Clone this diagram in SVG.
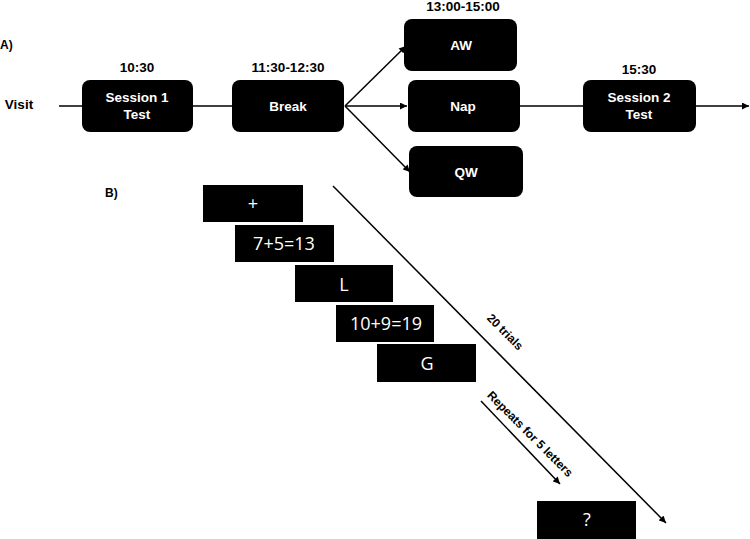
<svg xmlns="http://www.w3.org/2000/svg" width="750" height="539" viewBox="0 0 750 539">
<defs>
<marker id="ah" viewBox="0 0 10 10" refX="10" refY="5" markerWidth="8" markerHeight="7" markerUnits="userSpaceOnUse" orient="auto">
<path d="M0,0 L10,5 L0,10 Z" fill="#000"/>
</marker>
</defs>
<style>
.bx{fill:#000}
.t{font-family:"Liberation Sans",Arial,sans-serif;font-weight:bold;font-size:13.5px;fill:#000;text-anchor:middle}
.w{font-family:"Liberation Sans",Arial,sans-serif;font-weight:bold;font-size:13.5px;fill:#fff;text-anchor:middle}
.s{font-family:"Liberation Sans",Arial,sans-serif;font-weight:bold;font-size:12px;fill:#000}
.c{font-family:"Open Sans","Liberation Sans",sans-serif;font-size:18px;fill:#fff;text-anchor:middle}
.ln{stroke:#000;stroke-width:1.5;fill:none}
</style>
<rect width="750" height="539" fill="#fff"/>
<g id="connectors">
<line class="ln" x1="59" y1="106" x2="82" y2="106"/>
<line class="ln" x1="193" y1="106" x2="232" y2="106"/>
<line class="ln" x1="345" y1="106" x2="406" y2="46" marker-end="url(#ah)"/>
<line class="ln" x1="345" y1="106" x2="407" y2="106" marker-end="url(#ah)"/>
<line class="ln" x1="345" y1="106" x2="410" y2="172" marker-end="url(#ah)"/>
<line class="ln" x1="520" y1="106" x2="583" y2="106"/>
<line class="ln" x1="696" y1="106" x2="749" y2="106" marker-end="url(#ah)"/>
<line class="ln" x1="333" y1="186" x2="666" y2="523" marker-end="url(#ah)"/>
<line class="ln" x1="481" y1="401" x2="560" y2="484" marker-end="url(#ah)"/>
</g>
<g id="labels">
<text class="s" x="0" y="49">A)</text>
<text class="s" x="105" y="197">B)</text>
<text class="t" x="19" y="109" style="text-anchor:middle">Visit</text>
<text class="t" x="137" y="72">10:30</text>
<text class="t" x="288" y="72">11:30-12:30</text>
<text class="t" x="463" y="11">13:00-15:00</text>
<text class="t" x="639" y="74">15:30</text>
<text class="s" transform="translate(505,332) rotate(45)" x="0" y="4" style="text-anchor:middle">20 trials</text>
<text class="s" transform="translate(530,434) rotate(45)" x="0" y="4" style="text-anchor:middle">Repeats for 5 letters</text>
</g>
<g id="session1">
<rect class="bx" x="82" y="80" width="111" height="52" rx="8"/>
<text class="w" x="137" y="102">Session 1</text>
<text class="w" x="137" y="119">Test</text>
</g>
<g id="break">
<rect class="bx" x="232" y="80" width="112" height="52" rx="8"/>
<text class="w" x="288" y="111">Break</text>
</g>
<g id="aw">
<rect class="bx" x="404" y="19" width="113" height="52" rx="8"/>
<text class="w" x="461" y="50">AW</text>
</g>
<g id="nap">
<rect class="bx" x="408" y="80" width="112" height="52" rx="8"/>
<text class="w" x="463" y="111">Nap</text>
</g>
<g id="qw">
<rect class="bx" x="409" y="146" width="114" height="51" rx="8"/>
<text class="w" x="466" y="177">QW</text>
</g>
<g id="session2">
<rect class="bx" x="583" y="80" width="113" height="52" rx="8"/>
<text class="w" x="639" y="102">Session 2</text>
<text class="w" x="639" y="119">Test</text>
</g>
<g id="fixation">
<rect class="bx" x="203" y="185" width="100" height="37"/>
<text class="c" x="253" y="210">+</text>
</g>
<g id="eq1">
<rect class="bx" x="235" y="225" width="99" height="37"/>
<text class="c" x="284" y="250">7+5=13</text>
</g>
<g id="letterL">
<rect class="bx" x="295" y="265" width="98" height="37"/>
<text class="c" x="344" y="291">L</text>
</g>
<g id="eq2">
<rect class="bx" x="336" y="305" width="98" height="37"/>
<text class="c" x="386" y="330">10+9=19</text>
</g>
<g id="letterG">
<rect class="bx" x="377" y="344" width="99" height="38"/>
<text class="c" x="427" y="370">G</text>
</g>
<g id="recall">
<rect class="bx" x="537" y="501" width="99" height="38"/>
<text class="c" x="587" y="526">?</text>
</g>
</svg>
